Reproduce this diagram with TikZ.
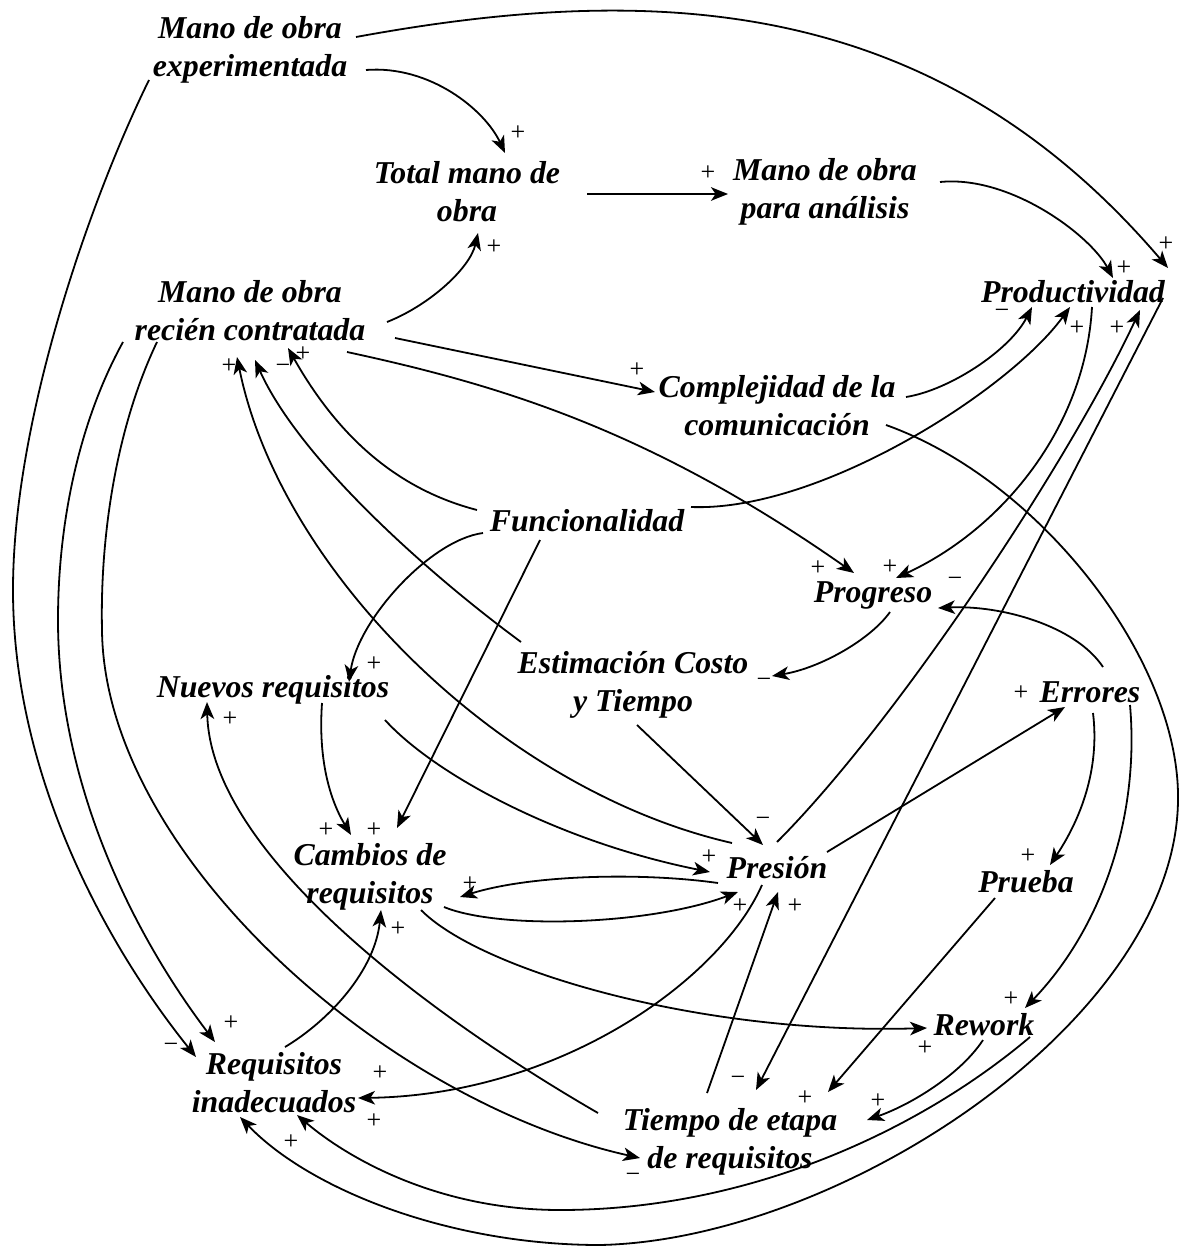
\documentclass[tikz,border=0pt]{standalone}
\usepackage{fontspec}
\setmainfont{Liberation Serif}
\usetikzlibrary{arrows.meta}
\begin{document}
\begin{tikzpicture}[x=0.5pt,y=-0.5pt,
  var/.style={font=\bfseries\itshape\fontsize{15.9}{19}\selectfont, align=center, inner sep=0pt},
  sgn/.style={font=\fontsize{13}{13}\selectfont, inner sep=0pt},
  link/.style={line width=0.9pt, -{Stealth[length=8.5pt,width=6.8pt,inset=2.3pt]}}
]
\useasboundingbox (0,0) rectangle (1181,1246);

% variables
\node[var] (ME)   at (250,50)   {Mano de obra\\experimentada};
\node[var] (TMO)  at (467,192)  {Total mano de\\obra};
\node[var] (MOA)  at (825,192)  {Mano de obra\\para análisis};
\node[var] (MRC)  at (250,311)  {Mano de obra\\recién contratada};
\node[var] (PROD) at (1073,292) {Productividad};
\node[var] (CC)   at (777,406)  {Complejidad de la\\comunicación};
\node[var] (FUNC) at (587,521)  {Funcionalidad};
\node[var] (PROG) at (873,595)  {Progreso};
\node[var] (ECT)  at (633,685)  {Estimación Costo\\y Tiempo};
\node[var] (NR)   at (273,690)  {Nuevos requisitos};
\node[var] (ERR)  at (1090,692) {Errores};
\node[var] (CR)   at (370,877)  {Cambios de\\requisitos};
\node[var] (PRES) at (777,868)  {Presión};
\node[var] (PRU)  at (1026,882) {Prueba};
\node[var] (REW)  at (984,1025) {Rework};
\node[var] (RI)   at (274,1083) {Requisitos\\inadecuados};
\node[var] (TER)  at (730,1142) {Tiempo de etapa\\de requisitos};

% causal links
\draw[link] ([shift={(116,20)}]ME.center) .. controls +(64,-5) and +(-20,-43) .. ([shift={(38,-39)}]TMO.center);
\draw[link] ([shift={(106,-13)}]ME.center) .. controls +(300,-55) and +(-234,-274) .. ([shift={(95,-24)}]PROD.center);
\draw[link] ([shift={(120,2)}]TMO.center) -- ([shift={(-97,2)}]MOA.center);
\draw[link] ([shift={(115,-10)}]MOA.center) .. controls +(70,-7) and +(-23,-43) .. ([shift={(40,-14)}]PROD.center);
\draw[link] ([shift={(137,11)}]MRC.center) .. controls +(43,-17) and +(-8,35) .. ([shift={(11,41)}]TMO.center);
\draw[link] ([shift={(145,27)}]MRC.center) -- ([shift={(-122,-14)}]CC.center);
\draw[link] ([shift={(97,41)}]MRC.center) .. controls +(153,33) and +(-204,-143) .. ([shift={(-19,-22)}]PROG.center);
\draw[link] ([shift={(129,-9)}]CC.center) .. controls +(44,-7) and +(-22,43) .. ([shift={(-41,15)}]PROD.center);
\draw[link] ([shift={(104,-14)}]FUNC.center) .. controls +(129,5) and +(-60,83) .. ([shift={(-3,15)}]PROD.center);
\draw[link] ([shift={(19,15)}]PROD.center) .. controls +(-7,123) and +(104,-48) .. ([shift={(23,-17)}]PROG.center);
\draw[link] ([shift={(109,19)}]CC.center) .. controls +(154,55) and +(2,-140) .. (1178,800)
   .. controls +(-2,220) and +(240,-5) .. (600,1245)
   .. controls +(-150,0) and +(70,73) .. ([shift={(-34,34)}]RI.center);
\draw[link] ([shift={(17,17)}]PROG.center) .. controls +(-20,28) and +(48,-8) .. ([shift={(139,-9)}]ECT.center);
\draw[link] ([shift={(13,-25)}]ERR.center) .. controls +(-28,-42) and +(62,-3) .. ([shift={(65,13)}]PROG.center);
\draw[link] ([shift={(4,40)}]ECT.center) -- ([shift={(-14,-23)}]PRES.center);
\draw[link] ([shift={(-104,12)}]FUNC.center) .. controls +(-53,7) and +(9,-62) .. ([shift={(76,-8)}]NR.center);
\draw[link] ([shift={(-47,19)}]FUNC.center) -- ([shift={(27,-49)}]CR.center);
\draw[link] ([shift={(49,13)}]NR.center) .. controls +(-4,57) and +(-21,-35) .. ([shift={(-19,-42)}]CR.center);
\draw[link] ([shift={(112,30)}]NR.center) .. controls +(50,55) and +(-150,-30) .. ([shift={(-67,4)}]PRES.center);
\draw[link] ([shift={(-45,-25)}]PRES.center) .. controls +(-232,-53) and +(43,213) .. ([shift={(-13,46)}]MRC.center);
\draw[link] ([shift={(-112,-43)}]ECT.center) .. controls +(-91,-67) and +(45,100) .. ([shift={(5,49)}]MRC.center);
\draw[link] ([shift={(-110,-11)}]FUNC.center) .. controls +(-77,-20) and +(52,92) .. ([shift={(38,37)}]MRC.center);
\draw[link] ([shift={(50,-16)}]PRES.center) -- ([shift={(-25,15)}]ERR.center);
\draw[link] ([shift={(0,-26)}]PRES.center) .. controls +(120,-120) and +(-70,150) .. ([shift={(67,18)}]PROD.center);
\draw[link] ([shift={(90,6)}]PROD.center) -- ([shift={(26,-52)}]TER.center);
\draw[link] ([shift={(-59,15)}]PRES.center) .. controls +(-78,-11) and +(70,-22) .. ([shift={(90,20)}]CR.center);
\draw[link] ([shift={(74,30)}]CR.center) .. controls +(56,23) and +(-88,33) .. ([shift={(-39,24)}]PRES.center);
\draw[link] ([shift={(51,33)}]CR.center) .. controls +(59,60) and +(-227,7) .. ([shift={(-57,3)}]REW.center);
\draw[link] ([shift={(11,-36)}]RI.center) .. controls +(45,-27) and +(-6,60) .. ([shift={(11,33)}]CR.center);
\draw[link] ([shift={(-15,17)}]PRES.center) .. controls +(-42,95) and +(202,-3) .. ([shift={(84,15)}]RI.center);
\draw[link] ([shift={(-23,-49)}]TER.center) -- ([shift={(1,24)}]PRES.center);
\draw[link] ([shift={(-101,30)}]ME.center) .. controls +(-59,120) and +(0,-170) .. (13,590)
   .. controls +(0,190) and +(-86,-107) .. ([shift={(-78,-26)}]RI.center);
\draw[link] ([shift={(-127,31)}]MRC.center) .. controls +(-43,78) and +(0,-100) .. (58,620)
   .. controls +(0,160) and +(-85,-112) .. ([shift={(-59,-41)}]RI.center);
\draw[link] ([shift={(-93,31)}]MRC.center) .. controls +(-42,88) and +(-2,-90) .. (102,630)
   .. controls +(2,220) and +(-260,-58) .. ([shift={(-90,16)}]TER.center);
\draw[link] ([shift={(-132,-29)}]TER.center) .. controls +(-178,-103) and +(3,148) .. ([shift={(-66,12)}]NR.center);
\draw[link] ([shift={(3,21)}]ERR.center) .. controls +(7,57) and +(30,-45) .. ([shift={(24,-17)}]PRU.center);
\draw[link] ([shift={(40,13)}]ERR.center) .. controls +(10,115) and +(75,-78) .. ([shift={(41,-17)}]REW.center);
\draw[link] ([shift={(-31,16)}]PRU.center) -- ([shift={(98,-50)}]TER.center);
\draw[link] ([shift={(-1,15)}]REW.center) .. controls +(-23,35) and +(43,-15) .. ([shift={(137,-22)}]TER.center);
\draw[link] ([shift={(46,12)}]REW.center) .. controls +(-110,93) and +(190,0) .. (560,1210)
   .. controls +(-120,0) and +(53,45) .. ([shift={(23,32)}]RI.center);

% polarity signs
\node[sgn] (p1)  at (518,133)  {+};
\node[sgn] (p2)  at (1166,244) {+};
\node[sgn] (p3)  at (708,173)  {+};
\node[sgn] (p4)  at (1124,268) {+};
\node[sgn] (p5)  at (494,247)  {+};
\node[sgn] (p6)  at (637,370)  {+};
\node[sgn] (p7)  at (1002,314) {−};
\node[sgn] (p8)  at (1077,328) {+};
\node[sgn] (p9)  at (1117,328) {+};
\node[sgn] (p10) at (229,366)  {+};
\node[sgn] (p11) at (283,369)  {−};
\node[sgn] (p12) at (303,354)  {+};
\node[sgn] (p13) at (818,568)  {+};
\node[sgn] (p14) at (890,567)  {+};
\node[sgn] (p15) at (955,582)  {−};
\node[sgn] (p16) at (764,683)  {−};
\node[sgn] (p17) at (374,664)  {+};
\node[sgn] (p18) at (230,719)  {+};
\node[sgn] (p19) at (1021,693) {+};
\node[sgn] (p20) at (326,830)  {+};
\node[sgn] (p21) at (374,830)  {+};
\node[sgn] (p22) at (763,822)  {−};
\node[sgn] (p23) at (709,857)  {+};
\node[sgn] (p24) at (470,884)  {+};
\node[sgn] (p25) at (740,906)  {+};
\node[sgn] (p26) at (795,906)  {+};
\node[sgn] (p27) at (398,929)  {+};
\node[sgn] (p28) at (1028,856) {+};
\node[sgn] (p29) at (1011,999) {+};
\node[sgn] (p30) at (925,1048) {+};
\node[sgn] (p31) at (738,1081) {−};
\node[sgn] (p32) at (805,1098) {+};
\node[sgn] (p33) at (878,1101) {+};
\node[sgn] (p34) at (633,1178) {−};
\node[sgn] (p35) at (231,1023) {+};
\node[sgn] (p36) at (171,1048) {−};
\node[sgn] (p37) at (380,1073) {+};
\node[sgn] (p38) at (374,1121) {+};
\node[sgn] (p39) at (291,1142) {+};
\end{tikzpicture}
\end{document}
